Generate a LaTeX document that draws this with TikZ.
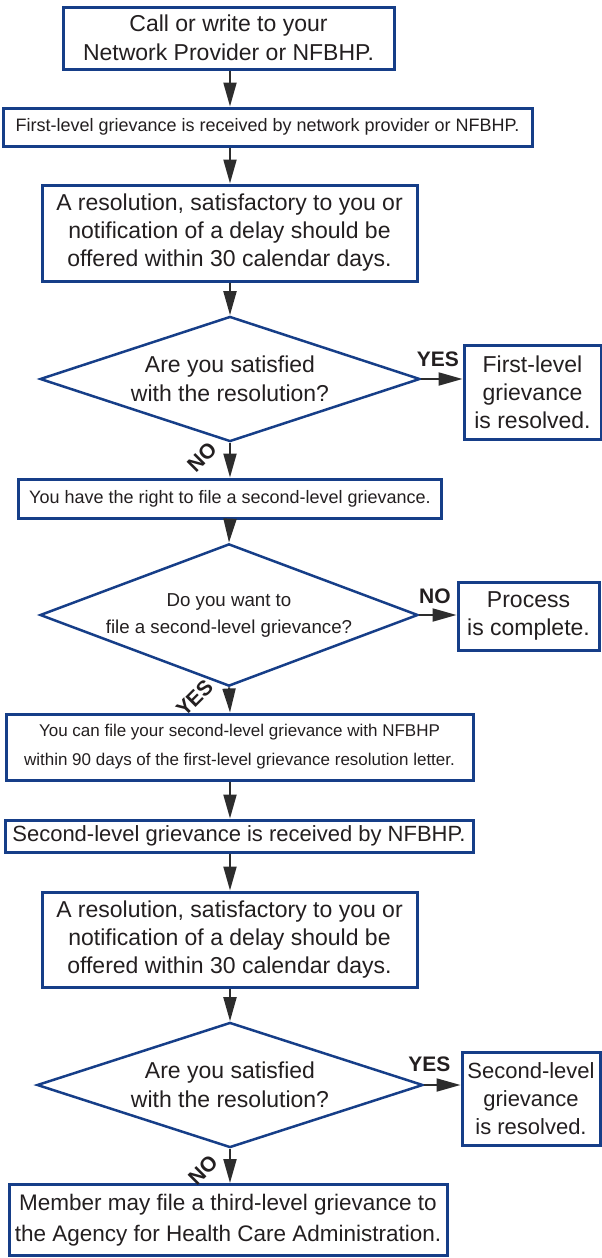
\documentclass[tikz,border=0pt]{standalone}
\usepackage{fontspec}
\setmainfont{Liberation Sans}
\usetikzlibrary{shapes.geometric,arrows.meta}
\definecolor{flownavy}{RGB}{22,62,136}
\definecolor{flowgray}{RGB}{45,45,45}
\definecolor{flowtext}{RGB}{35,31,32}
\newcommand{\flowfont}[2]{\fontsize{#1}{#2}\selectfont}

\begin{document}
\begin{tikzpicture}[x=1pt, y=-1pt,
    box/.style={draw=flownavy, line width=3pt, fill=white, align=center, text=flowtext, inner sep=0pt},
    choice/.style={diamond, aspect=2.5, draw=flownavy, line width=2.5pt, fill=white, align=center, text=flowtext, inner sep=0pt},
    arr/.style={-{Triangle[length=24pt,width=13pt]}, line width=2pt, draw=flowgray, fill=flowgray},
    ans/.style={font=\flowfont{21}{21}\bfseries, text=flowtext, inner sep=0pt}]
    \useasboundingbox (0,0) rectangle (602,1258);
    \coordinate (axis) at (230,0);

    % First level
    \node[box, minimum width=331pt, minimum height=62pt, font=\flowfont{23}{29}] (call) at (228.5,38) {Call or write to your\\Network Provider or NFBHP.};
    \node[box, minimum width=529pt, minimum height=38pt, font=\flowfont{18}{22}] (recv1) at (267.5,127) {First-level grievance is received by network provider or NFBHP.};
    \node[box, minimum width=375pt, minimum height=96pt, font=\flowfont{23}{28}] (offer1) at (229.5,233) {A resolution, satisfactory to you or\\notification of a delay should be\\offered within 30 calendar days.};
    \node[choice, minimum width=380pt, minimum height=120pt, font=\flowfont{23}{29}] (sat1) at (230,379) {Are you satisfied\\with the resolution?};
    \node[box, minimum width=137pt, minimum height=94pt, font=\flowfont{23}{28}] (done1) at (532.5,392) {First-level\\grievance\\is resolved.};
    \node[box, minimum width=423pt, minimum height=39pt, font=\flowfont{18}{22}] (right) at (230,498.5) {You have the right to file a second-level grievance.};

    % Second level
    \node[choice, minimum width=378pt, minimum height=120pt, font=\flowfont{18.7}{27}] (want) at (229,615) {Do you want to\\file a second-level grievance?};
    \node[box, minimum width=141pt, minimum height=68pt, font=\flowfont{23}{28}] (complete) at (528.5,616) {Process\\is complete.};
    \node[box, minimum width=467pt, minimum height=66pt, font=\flowfont{17}{29}] (file2) at (239.5,747) {You can file your second-level grievance with NFBHP\\within 90 days of the first-level grievance resolution letter.};
    \node[box, minimum width=468pt, minimum height=32pt, font=\flowfont{22}{26}] (recv2) at (239,836) {Second-level grievance is received by NFBHP.};
    \node[box, minimum width=375pt, minimum height=95pt, font=\flowfont{23}{28}] (offer2) at (229.5,939.5) {A resolution, satisfactory to you or\\notification of a delay should be\\offered within 30 calendar days.};
    \node[choice, minimum width=386pt, minimum height=121pt, font=\flowfont{23}{29}] (sat2) at (230,1085) {Are you satisfied\\with the resolution?};
    \node[box, minimum width=138pt, minimum height=93pt, font=\flowfont{22}{28}] (done2) at (531,1098.5) {Second-level\\grievance\\is resolved.};
    \node[box, minimum width=438pt, minimum height=71pt, font=\flowfont{22.5}{31}] (member) at (228,1220) {Member may file a third-level grievance to\\the Agency for Health Care Administration.};

    % Arrows
    \draw[arr] (call.south -| axis) -- (recv1.north -| axis);
    \draw[arr] (recv1.south -| axis) -- (offer1.north -| axis);
    \draw[arr] (offer1.south -| axis) -- (sat1.north);
    \draw[arr] (sat1.east) -- (sat1.east -| done1.west) node[ans, midway, anchor=south, xshift=-4pt, yshift=11pt] {YES};
    \draw[arr] (sat1.south) -- (right.north -| axis) node[ans, midway, xshift=-28pt, yshift=3pt, rotate=45] {NO};
    \draw[arr] (right.south -| axis) -- (want.north);
    \draw[arr] (want.east) -- (want.east -| complete.west) node[ans, midway, anchor=south, xshift=-3pt, yshift=10pt] {NO};
    \draw[arr] (want.south) -- (file2.north -| axis) node[ans, midway, xshift=-35pt, yshift=2pt, rotate=45] {YES};
    \draw[arr] (file2.south -| axis) -- (recv2.north -| axis);
    \draw[arr] (recv2.south -| axis) -- (offer2.north -| axis);
    \draw[arr] (offer2.south -| axis) -- (sat2.north);
    \draw[arr] (sat2.east) -- (sat2.east -| done2.west) node[ans, midway, anchor=south, xshift=-13pt, yshift=12pt] {YES};
    \draw[arr] (sat2.south) -- (member.north -| axis) node[ans, midway, xshift=-27pt, yshift=-4pt, rotate=45] {NO};
\end{tikzpicture}
\end{document}
